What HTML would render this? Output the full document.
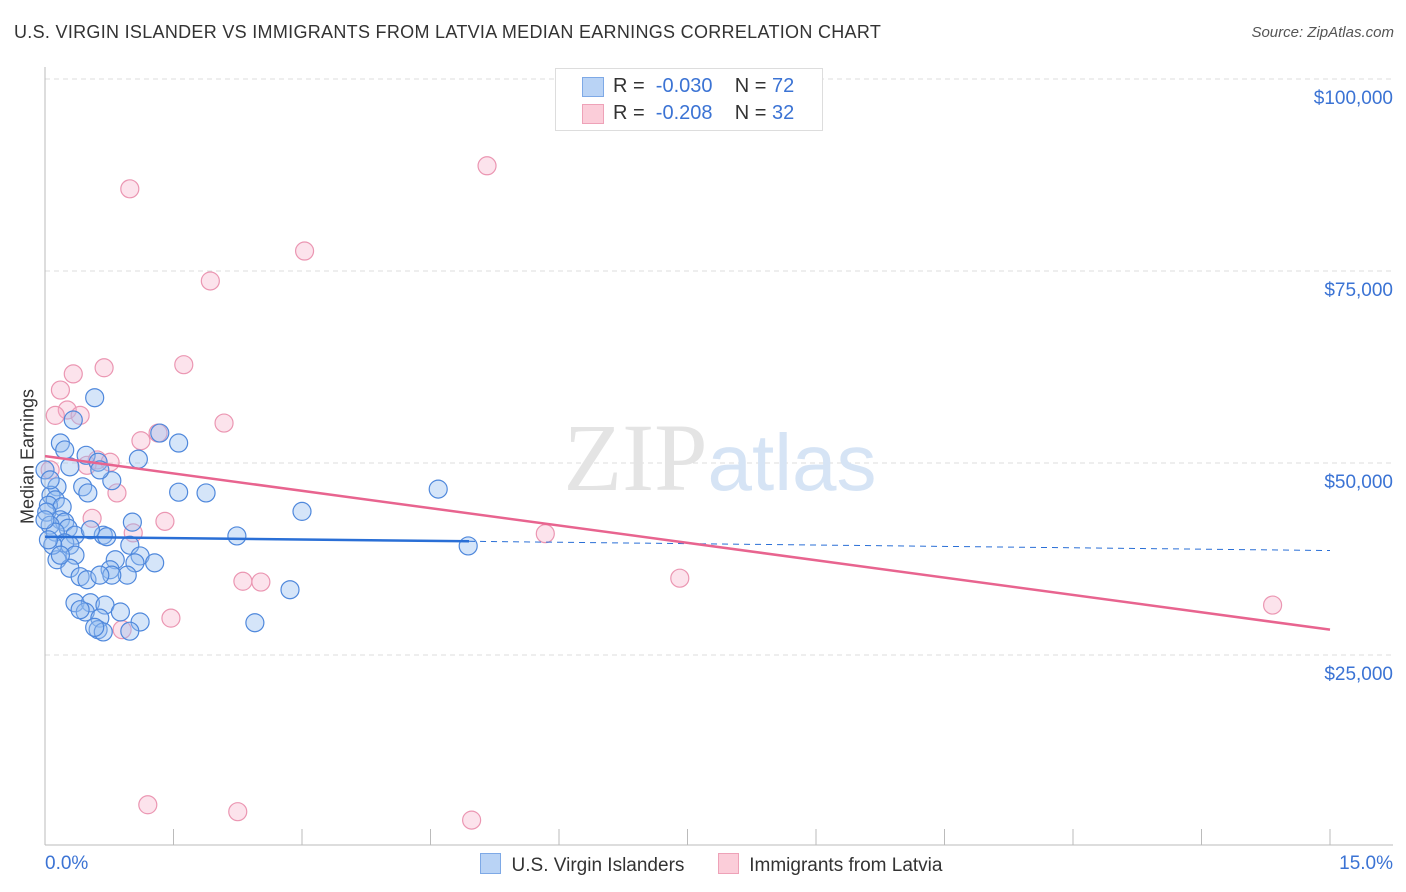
<!DOCTYPE html>
<html><head><meta charset="utf-8"><style>
body{margin:0;background:#fff;font-family:"Liberation Sans",sans-serif;}
#wrap{position:relative;width:1406px;height:892px;overflow:hidden}
.t{position:absolute;white-space:nowrap}
</style></head><body><div id="wrap">
<div class="t" style="left:14px;top:22px;font-size:18px;letter-spacing:0.3px;color:#333">U.S. VIRGIN ISLANDER VS IMMIGRANTS FROM LATVIA MEDIAN EARNINGS CORRELATION CHART</div>
<div class="t" style="right:12px;top:24px;font-size:15px;color:#555;font-style:italic">Source: ZipAtlas.com</div>
<svg id="svg" width="1406" height="892" style="position:absolute;left:0;top:0"></svg>
</div>
<script>
const blueX=[0.58,0.33,1.34,1.56,0.48,1.09,0.62,0.29,0.78,0.14,0.44,0.50,1.56,1.88,4.59,0.07,0.12,0.04,0.20,0.02,0.18,0.23,0.06,1.02,0.27,0.12,0.35,0.68,0.72,2.24,3.00,0.23,0.29,0.99,0.35,0.82,1.11,0.14,1.28,0.76,1.05,0.29,0.41,0.49,0.96,0.78,2.86,0.35,0.53,0.70,0.47,0.41,0.88,0.64,1.11,2.45,0.62,0.68,0.99,0.58,4.94,0.18,0.0,0.06,0.09,0.64,0.23,0.53,0.04,0.18,0.0,0.64];
const blueY=[58.5,55.6,53.9,52.6,51.0,50.5,50.1,49.5,47.7,46.9,46.9,46.1,46.2,46.1,46.6,45.8,45.2,44.5,44.3,43.6,42.6,42.3,41.9,42.3,41.5,41.0,40.6,40.6,40.4,40.5,43.7,39.6,39.3,39.3,38.0,37.4,37.9,37.4,37.0,36.1,37.0,36.3,35.2,34.8,35.4,35.4,33.5,31.8,31.8,31.5,30.6,30.9,30.6,29.8,29.3,29.2,28.3,28.0,28.1,28.6,39.2,52.6,49.1,47.8,39.3,49.1,51.7,41.3,40.0,38.0,42.6,35.4];
const pinkX=[5.16,0.99,3.03,1.93,1.62,0.69,0.33,0.18,0.26,0.12,0.41,2.09,1.32,1.12,0.61,0.76,0.49,0.06,0.84,0.55,1.40,1.03,5.84,7.41,2.31,2.52,1.47,0.90,14.33,1.20,2.25,4.98];
const pinkY=[88.7,85.7,77.6,73.7,62.8,62.4,61.6,59.5,56.9,56.2,56.2,55.2,53.9,52.9,50.4,50.1,49.7,49.1,46.1,42.8,42.4,40.9,40.8,35.0,34.6,34.5,29.8,28.3,31.5,5.5,4.6,3.5];
const blueTrend=[40.4,38.6]; // y at x=0 and x=15
const pinkTrend=[50.9,28.3];
const yTicks=[25,50,75,100];
const yTickLabels=["$25,000","$50,000","$75,000","$100,000"];
const xTicks=[0,1.5,3,4.5,6,7.5,9,10.5,12,13.5,15];

const NS="http://www.w3.org/2000/svg",svg=document.getElementById('svg');
const X=v=>45+v/15*1285, Y=v=>847-v/25*192;
function el(tag,a,p){const e=document.createElementNS(NS,tag);for(const k in a)e.setAttribute(k,a[k]);(p||svg).appendChild(e);return e;}
yTicks.forEach((t,i)=>{
 const g=el('line',{x1:45,x2:1393,y1:Y(t),y2:Y(t),stroke:'#dcdcdc','stroke-dasharray':'5,4'});
 
 
 const tx=el('text',{x:1393,y:Y(t)+25,'text-anchor':'end','font-size':19,fill:'#3b73d4','font-family':'Liberation Sans'});
 tx.textContent=yTickLabels[i];
 
 
});
el('line',{x1:45,x2:45,y1:67,y2:845,stroke:'#bbb'});
el('line',{x1:45,x2:1393,y1:845,y2:845,stroke:'#bbb'});
xTicks.forEach(t=>{const l=el('line',{x1:X(t),x2:X(t),y1:829,y2:845,stroke:'#bbb'});
 
 });
const wm=el('text',{x:720,y:490,'text-anchor':'middle','font-size':96,fill:'#e4e4e4','font-family':'Liberation Serif'});
wm.innerHTML='ZIP<tspan fill="#d6e4f5" font-family="Liberation Sans" font-size="80">atlas</tspan>';


pinkX.forEach((x,i)=>{const c=el('circle',{cx:X(x),cy:Y(pinkY[i]),r:9,fill:'rgba(245,175,200,0.35)',stroke:'#eb96b2','stroke-width':1.2});
 
 });
blueX.forEach((x,i)=>{const c=el('circle',{cx:X(x),cy:Y(blueY[i]),r:9,fill:'rgba(150,190,240,0.4)',stroke:'#4f88dc','stroke-width':1.2});
 
 });
const bAt=x=>blueTrend[0]+(blueTrend[1]-blueTrend[0])*x/15;
const b1=el('line',{x1:X(0),y1:Y(bAt(0)),x2:X(4.95),y2:Y(bAt(4.95)),stroke:'#2a6fd6','stroke-width':2.5});


const b2=el('line',{x1:X(4.95),y1:Y(bAt(4.95)),x2:X(15),y2:Y(bAt(15)),stroke:'#2a6fd6','stroke-width':1,'stroke-dasharray':'6,5'});


const p1=el('line',{x1:X(0),y1:Y(pinkTrend[0]),x2:X(15),y2:Y(pinkTrend[1]),stroke:'#e8648f','stroke-width':2.5});


</script>
<div class="t" style="left:-40px;top:446px;width:136px;text-align:center;transform:rotate(-90deg);font-size:18px;color:#333">Median Earnings</div>
<div class="t" style="left:45px;top:853px;font-size:19px;color:#3b73d4">0.0%</div>
<div class="t" style="right:13px;top:853px;font-size:19px;color:#3b73d4">15.0%</div>
<div style="position:absolute;left:555px;top:68px;width:266px;height:61px;border:1px solid #ddd;background:#fff;font-size:20px;color:#333">
 <div style="position:absolute;left:26px;top:8px;width:20px;height:18px;background:#b9d3f5;border:1px solid #7ea9e6"></div>
 <div class="t" style="left:57px;top:6px">R = <span style="color:#3b73d4">&nbsp;-0.030</span>&nbsp;&nbsp;&nbsp; N = <span style="color:#3b73d4">72</span></div>
 <div style="position:absolute;left:26px;top:35px;width:20px;height:18px;background:#fbcdd9;border:1px solid #eea2b8"></div>
 <div class="t" style="left:57px;top:33px">R = <span style="color:#3b73d4">&nbsp;-0.208</span>&nbsp;&nbsp;&nbsp; N = <span style="color:#3b73d4">32</span></div>
</div>
<div style="position:absolute;left:480px;top:853px;font-size:19px;color:#333;white-space:nowrap">
 <span><span style="display:inline-block;width:19px;height:19px;background:#b9d3f5;border:1px solid #7ea9e6;vertical-align:-3px"></span>&nbsp; U.S. Virgin Islanders</span>
 <span style="margin-left:28px"><span style="display:inline-block;width:19px;height:19px;background:#fbcdd9;border:1px solid #eea2b8;vertical-align:-3px"></span>&nbsp; Immigrants from Latvia</span>
</div>
</body></html>
